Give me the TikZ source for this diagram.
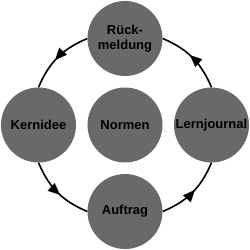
\documentclass[tikz,border=0pt]{standalone}
\usepackage{fontspec}
\setmainfont{Liberation Sans}
\usepackage{tikz}
\usetikzlibrary{arrows.meta,decorations.markings}

\begin{document}
\begin{tikzpicture}[
    x=1pt,y=1pt,
    font=\fontsize{13}{15}\selectfont\bfseries,
    ball/.style={circle,fill=black!59,minimum size=75pt,inner sep=0pt,align=center},
    arr/.style={line width=1.6pt,postaction={decorate},
      decoration={markings,mark=at position 0.55 with {\arrow{Triangle[length=12pt,width=10pt]}}}}
]
\useasboundingbox (-125,-125) rectangle (125,125);
\node[ball] (norm) at (0,0) {Normen};
\node[ball] (rueck) at (0,86.5) {Rück-\\meldung};
\node[ball] (kern) at (-86.5,0) {Kernidee};
\node[ball] (auft) at (0,-86.5) {Auftrag};
\node[ball] (lern) at (86.5,0) {Lernjournal};
\draw[arr] (rueck.west) to[out=203,in=67] (kern.north);
\draw[arr] (kern.south) to[out=-67,in=157] (auft.west);
\draw[arr] (auft.east) to[out=23,in=-113] (lern.south);
\draw[arr] (lern.north) to[out=113,in=-23] (rueck.east);
\end{tikzpicture}
\end{document}
